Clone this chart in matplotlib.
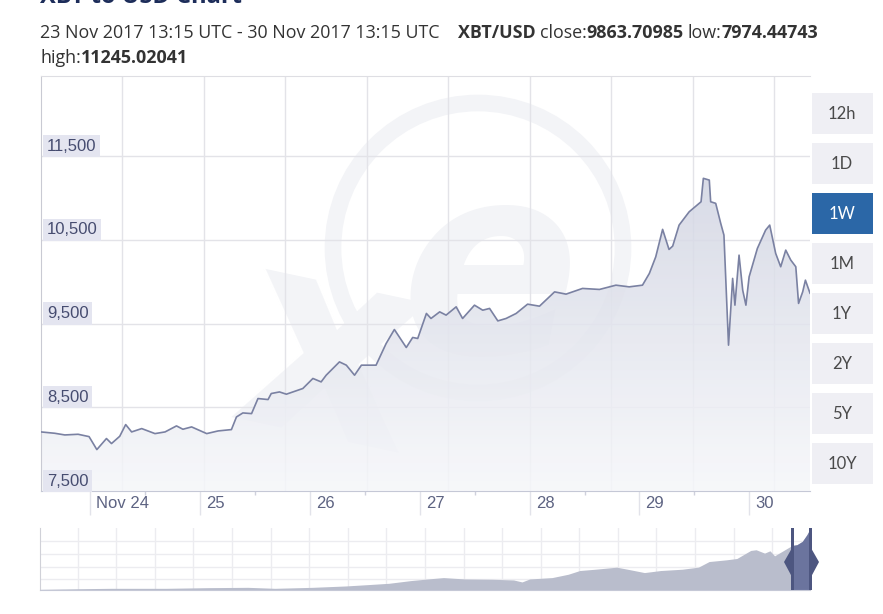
import matplotlib
matplotlib.use("Agg")
import matplotlib.pyplot as plt
import numpy as np
from matplotlib.colors import LinearSegmentedColormap
from matplotlib.patches import Rectangle, Polygon, Circle

W, H = 883, 614

# XBT/USD, hours since 23 Nov 2017 13:15 UTC
hours = [0.0, 3.0, 5.2, 8.1, 10.5, 12.2, 14.3, 15.4, 17.2, 18.5, 19.8, 22.0,
         24.9, 27.1, 29.6, 31.0, 32.9, 36.2, 38.7, 41.6, 42.7, 44.1, 46.0,
         47.4, 49.6, 50.3, 52.1, 53.6, 57.2, 59.4, 61.2, 62.3, 65.2, 66.7,
         68.5, 70.0, 73.2, 75.4, 77.2, 79.8, 81.2, 82.3, 84.2, 85.2, 87.1,
         88.5, 90.7, 92.1, 94.7, 96.5, 98.0, 99.8, 101.6, 103.8, 106.3,
         108.9, 112.2, 114.7, 118.3, 122.0, 125.6, 128.5, 131.4, 132.9,
         134.3, 135.8, 137.2, 138.0, 139.4, 141.6, 144.2, 144.7, 146.0,
         146.3, 147.4, 148.5, 149.2, 150.2, 151.1, 151.6, 152.5, 153.3,
         154.0, 154.7, 156.5, 158.3, 159.2, 160.5, 161.6, 162.7, 163.8,
         164.9, 165.5, 166.4, 167.0, 168.0]
price = [8206, 8190, 8170, 8178, 8150, 7995, 8127, 8067, 8154, 8294, 8206,
         8246, 8186, 8206, 8278, 8238, 8266, 8186, 8218, 8234, 8385, 8433,
         8425, 8605, 8593, 8665, 8684, 8657, 8725, 8845, 8804, 8884, 9043,
         9004, 8884, 9004, 9004, 9263, 9430, 9215, 9335, 9323, 9622, 9562,
         9641, 9602, 9701, 9562, 9721, 9661, 9682, 9533, 9562, 9622, 9733,
         9709, 9880, 9853, 9921, 9909, 9960, 9940, 9960, 10100, 10299, 10627,
         10387, 10427, 10678, 10837, 10957, 11237, 11216, 10957, 10938,
         10698, 10558, 9243, 10041, 9721, 10319, 9900, 9721, 10060, 10399,
         10618, 10678, 10340, 10180, 10379, 10260, 10180, 9742, 9880, 10020,
         9864]

y_ticks = [7500, 8500, 9500, 10500, 11500]
y_labels = ["7,500", "8,500", "9,500", "10,500", "11,500"]
day_hours = [10.75, 34.75, 58.75, 82.75, 106.75, 130.75, 154.75]
day_labels = ["Nov 24", "25", "26", "27", "28", "29", "30"]
buttons = ["12h", "1D", "1W", "1M", "1Y", "2Y", "5Y", "10Y"]
active = "1W"

# navigator: position across the range (0-1) and height (% of panel)
nav_pos = [0.0, 0.059, 0.093, 0.164, 0.220, 0.270, 0.305, 0.354, 0.397,
           0.425, 0.453, 0.481, 0.509, 0.524, 0.552, 0.587, 0.615, 0.626,
           0.636, 0.665, 0.686, 0.701, 0.721, 0.749, 0.763, 0.785, 0.806,
           0.834, 0.855, 0.869, 0.891, 0.905, 0.923, 0.930, 0.941, 0.948,
           0.954, 0.971, 0.977, 0.983, 0.990, 0.996, 1.0]
nav_level = [1.1, 2.2, 2.7, 2.7, 3.8, 4.3, 2.7, 4.3, 6.5, 8.6, 10.8, 15.1,
             18.4, 20.0, 17.8, 17.3, 16.2, 13.0, 17.8, 20.0, 25.4, 31.4, 33.5,
             36.8, 33.5, 28.1, 31.4, 33.5, 36.8, 45.9, 48.6, 50.8, 63.8, 64.9,
             59.5, 63.2, 55.1, 67.6, 71.9, 73.0, 78.4, 89.2, 98.4]


def fx(x):
    return x / W


def fy(y):
    return 1 - y / H


fig = plt.figure(figsize=(W / 100, H / 100), dpi=100)
renderer = fig.canvas.get_renderer()


def chain(x0, y0, parts, **kw):
    # place text pieces one after another, left to right (pixel coords)
    x = x0
    for txt, bold, gap in parts:
        t = fig.text(fx(x), fy(y0), txt, weight="bold" if bold else "normal", **kw)
        x = t.get_window_extent(renderer).x1 + gap


# header (title row is cut at the top edge, as in the page capture)
fig.text(fx(40), fy(3), "XBT to USD Chart", fontsize=17, color="#1d2d5a",
         family="Open Sans", weight="bold", va="baseline")
hdr = dict(fontsize=12.9, family="Open Sans", color="#333333", va="center")
chain(40, 33, [("23 Nov 2017 13:15 UTC - 30 Nov 2017 13:15 UTC", False, 0)], **hdr)
chain(458, 33, [("XBT/USD", True, 4), ("close:", False, 0),
                ("9863.70985", True, 4), ("low:", False, 0),
                ("7974.44743", True, 0)], **hdr)
chain(40, 58, [("high:", False, 0), ("11245.02041", True, 0)], **hdr)

# main chart
ax = fig.add_axes([fx(41), fy(491), (810 - 41) / W, (491 - 76) / H])
ax.set_xlim(0, 168)
ax.set_ylim(7500, 12460)

# faint xe watermark
ax.add_patch(Circle((4.78, (H - 248) / 100), 1.45, transform=fig.dpi_scale_trans,
                    fill=False, lw=12, ec="#f3f4f7", zorder=0))
ax.text(fx(330), fy(360), "x", transform=fig.transFigure, fontsize=200,
        weight="bold", color="#f3f4f7", ha="center", va="center",
        family="DejaVu Sans", rotation=-12, zorder=0.1)
ax.text(fx(490), fy(280), "e", transform=fig.transFigure, fontsize=190,
        weight="bold", style="italic", color="#f3f4f7", ha="center",
        va="center", family="DejaVu Sans", zorder=0.1)

for k in range(1, 10):
    ax.axvline(k * 17.8, color="#e3e3e8", lw=1, zorder=1)
for t in y_ticks[1:]:
    ax.axhline(t, color="#e3e3e8", lw=1, zorder=1)

# gradient area under the line
poly = ax.fill_between(hours, price, 7500, color="none", lw=0)
grad = LinearSegmentedColormap.from_list("g", ["#f6f7fa", "#c6cadb"])
img = ax.imshow(np.linspace(0, 1, 256).reshape(-1, 1), cmap=grad, aspect="auto",
                extent=[0, 168, 7500, 12460], origin="lower", alpha=0.85, zorder=2)
img.set_clip_path(poly.get_paths()[0], transform=ax.transData)
ax.plot(hours, price, color="#7a81a2", lw=1.2, zorder=3)

ax.spines["right"].set_visible(False)
ax.spines["top"].set_color("#dedee3")
ax.spines["left"].set_color("#c9cad3")
ax.spines["bottom"].set_color("#c5c8d6")

ax.set_yticks([])
ax.set_xticks(day_hours)
ax.set_xticks([h + 12 for h in day_hours[:-1]], minor=True)
ax.set_xticklabels([])
ax.tick_params(axis="x", which="major", length=17, color="#e2e3ea", width=1)
ax.tick_params(axis="x", which="minor", length=3, color="#cfd1dc", width=1)

for t, lab in zip(y_ticks, y_labels):
    ax.annotate(lab, xy=(0, t), xycoords=("axes fraction", "data"),
                xytext=(6, 10), textcoords="offset pixels", ha="left",
                va="center", fontsize=12, family="Liberation Sans",
                color="#464c70",
                bbox=dict(boxstyle="square,pad=0.22", fc="#e4e5f0", ec="none"),
                zorder=5)
for h, lab in zip(day_hours, day_labels):
    ax.annotate(lab, xy=(h, 0), xycoords=("data", "axes fraction"),
                xytext=(6, -13), textcoords="offset pixels", ha="left",
                va="center", fontsize=12, family="Liberation Sans",
                color="#5d6382")

# period buttons
for i, b in enumerate(buttons):
    top = 92.7 + 50 * i
    on = b == active
    fig.patches.append(Rectangle((fx(811.7), fy(top + 41)), 61 / W, 41 / H,
                                 transform=fig.transFigure,
                                 fc="#2b67a7" if on else "#efeff4", ec="none"))
    fig.text(fx(842), fy(top + 21), b, ha="center", va="center", fontsize=12,
             family="Lato", color="white" if on else "#4a4a4a")

# navigator
nav = fig.add_axes([fx(40), fy(590), 770 / W, 62 / H])
nav.set_xlim(0, 1)
nav.set_ylim(0, 100)
for k in range(19):
    nav.axvline(0.049 + 0.0501 * k, color="#ececf0", lw=1, zorder=0)
for lv in [17.8, 37.8, 58.4, 78.4]:
    nav.axhline(lv, color="#ececf0", lw=1, zorder=0)
nav.fill_between(nav_pos, nav_level, 0, color="#b9bdcc", lw=0, zorder=1)
sel = nav.fill_between(nav_pos, nav_level, 0, color="#6b749e", lw=0, zorder=2)
sel.set_clip_path(Rectangle((0.977, 0), 0.023, 100, transform=nav.transData))
nav.set_xticks([])
nav.set_yticks([])
for s in ["right", "top"]:
    nav.spines[s].set_visible(False)
nav.spines["left"].set_color("#d0d1d8")
nav.spines["bottom"].set_color("#c5c8d6")

for x0 in [792.5, 810.5]:
    fig.patches.append(Rectangle((fx(x0 - 1.2), fy(590)), 2.4 / W, 62 / H,
                                 transform=fig.transFigure, fc="#4d5680",
                                 ec="none"))
for tip, base in [(784, 792), (819, 811)]:
    fig.patches.append(Polygon([(fx(base), fy(548)), (fx(tip), fy(562)),
                                (fx(base), fy(577))], closed=True,
                               transform=fig.transFigure, fc="#4d5680", ec="none"))

fig.savefig("out.png", dpi=100)
